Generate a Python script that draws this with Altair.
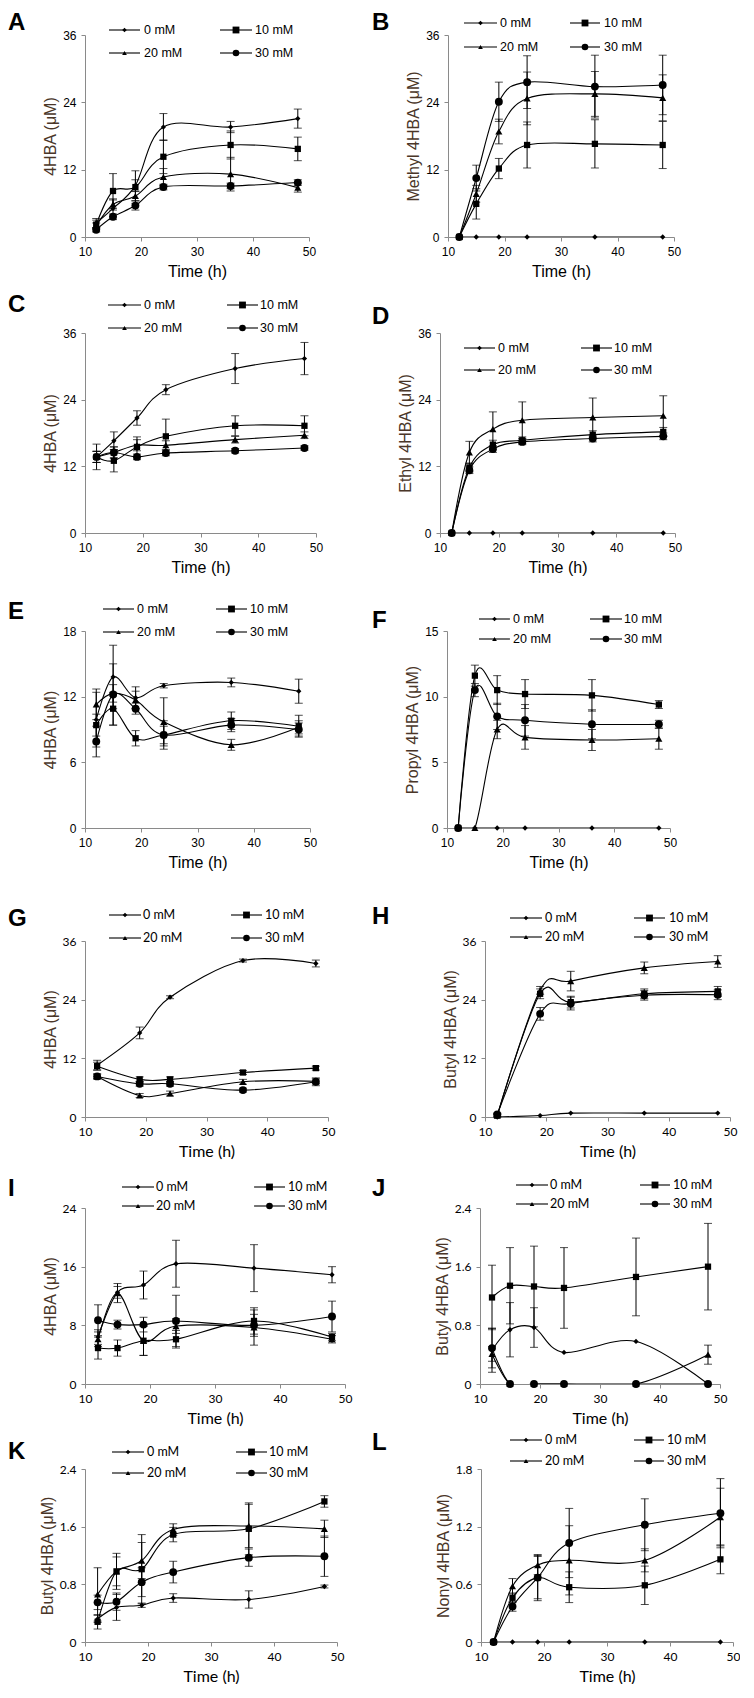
import altair as alt
import pandas as pd

SERIES = ["0 mM", "10 mM", "20 mM", "30 mM"]
MARKERS = ["diamond", "square", "triangle-up", "circle"]
MARKER_SIZE = [28, 62, 30, 58]

T6 = [12, 15, 19, 24, 36, 48]
T5 = [12, 19, 24, 36, 48]
X_TICKS = [10, 20, 30, 40, 50]

# ---- means (rows: 0, 10, 20, 30 mM) and error bars ----
A_MEAN = [[2.5, 5.1, 9.2, 19.6, 19.6, 21.1],
          [2.2, 8.2, 8.9, 14.3, 16.4, 15.7],
          [2.0, 5.8, 7.3, 10.7, 11.2, 8.8],
          [1.3, 3.6, 5.6, 8.9, 9.1, 9.7]]
A_ERR = [[0.8, 1.5, 1.0, 2.4, 1.0, 1.7],
         [0.8, 3.1, 2.9, 3.0, 2.5, 2.1],
         [0.5, 1.0, 0.8, 1.5, 3.0, 0.8],
         [0.4, 0.5, 0.8, 0.5, 0.5, 0.5]]

B_MEAN = [[0, 0, 0, 0, 0, 0],
          [0, 5.9, 12.2, 16.4, 16.6, 16.4],
          [0, 7.7, 18.8, 24.7, 25.5, 24.8],
          [0, 10.5, 24.1, 27.6, 26.8, 27.1]]
B_ERR = [[0, 0, 0, 0, 0, 0],
         [0, 2.7, 1.8, 4.1, 4.3, 4.2],
         [0, 1.5, 2.2, 4.7, 4.0, 4.1],
         [0, 2.3, 3.5, 4.7, 5.6, 5.3]]

C_MEAN = [[13.7, 16.6, 20.7, 25.8, 29.6, 31.4],
          [13.7, 13.0, 15.5, 17.4, 19.3, 19.3],
          [13.7, 14.5, 15.8, 15.8, 16.8, 17.6],
          [13.7, 14.5, 13.7, 14.4, 14.8, 15.3]]
C_ERR = [[1.0, 1.6, 1.3, 0.9, 2.7, 2.9],
         [2.3, 2.0, 1.8, 3.1, 1.8, 1.8],
         [1.0, 1.0, 1.0, 0.8, 0.6, 0.6],
         [1.0, 1.0, 0.5, 0.5, 0.4, 0.4]]

D_MEAN = [[0, 0, 0, 0, 0, 0],
          [0, 11.8, 15.9, 16.7, 17.7, 18.2],
          [0, 14.5, 18.7, 20.3, 20.8, 21.1],
          [0, 11.3, 15.1, 16.4, 17.0, 17.4]]
D_ERR = [[0, 0, 0, 0, 0, 0],
         [0, 0.8, 0.8, 0.6, 0.7, 0.8],
         [0, 2.0, 3.1, 3.3, 3.5, 3.6],
         [0, 0.6, 0.6, 0.5, 0.6, 0.6]]

E_MEAN = [[9.9, 13.8, 11.9, 13.0, 13.3, 12.5],
          [9.4, 10.9, 8.2, 8.5, 9.8, 9.3],
          [11.3, 12.3, 11.7, 9.7, 7.6, 9.2],
          [7.9, 12.2, 10.9, 8.5, 9.4, 9.0]]
E_ERR = [[2.5, 2.9, 1.0, 0.2, 0.4, 1.1],
         [1.0, 1.5, 0.7, 1.3, 0.8, 1.0],
         [1.4, 0.8, 0.8, 2.2, 0.5, 0.6],
         [1.4, 2.8, 0.5, 0.8, 0.6, 0.6]]

F_MEAN = [[0, 0, 0, 0, 0, 0],
          [0, 11.6, 10.5, 10.2, 10.1, 9.4],
          [0, 0, 7.5, 6.9, 6.7, 6.8],
          [0, 10.5, 8.5, 8.2, 7.9, 7.9]]
F_ERR = [[0, 0, 0, 0, 0, 0],
         [0, 0.8, 1.1, 1.1, 1.2, 0.3],
         [0, 0, 0.7, 0.9, 0.8, 0.8],
         [0, 0.5, 1.0, 1.2, 1.1, 0.3]]

G_MEAN = [[10.6, 17.2, 24.5, 32.0, 31.4],
          [10.4, 7.7, 7.7, 9.1, 10.0],
          [8.3, 4.4, 4.8, 7.2, 7.3],
          [8.3, 6.8, 6.8, 5.5, 7.2]]
G_ERR = [[1.0, 1.2, 0.3, 0.3, 0.7],
         [0.8, 0.5, 0.5, 0.4, 0.4],
         [0.5, 0.4, 0.5, 0.5, 0.5],
         [0.5, 0.5, 0.5, 0.4, 0.8]]

H_MEAN = [[0, 0.3, 0.8, 0.8, 0.8],
          [0.3, 25.2, 23.5, 25.2, 25.7],
          [0.3, 25.9, 27.8, 30.5, 31.8],
          [0.5, 21.1, 23.2, 24.9, 25.0]]
H_ERR = [[0, 0, 0, 0, 0],
         [0.3, 1.0, 1.2, 1.0, 1.0],
         [0.3, 0.8, 2.0, 1.2, 1.2],
         [0.3, 1.3, 1.3, 1.0, 1.0]]

I_MEAN = [[6.4, 12.5, 13.5, 16.4, 15.8, 14.9],
          [4.9, 4.9, 5.9, 6.1, 8.6, 6.4],
          [6.1, 12.4, 5.9, 7.9, 7.7, 6.1],
          [8.7, 8.1, 8.1, 8.6, 8.0, 9.2]]
I_ERR = [[1.0, 0.8, 1.9, 3.2, 3.2, 1.1],
         [1.5, 1.1, 2.0, 1.2, 1.8, 0.5],
         [1.0, 1.3, 2.0, 1.0, 2.4, 0.5],
         [2.1, 0.6, 1.0, 3.5, 1.5, 2.1]]

J_MEAN = [[0.46, 0.74, 0.77, 0.43, 0.58, 0.0],
          [1.18, 1.34, 1.33, 1.31, 1.46, 1.60],
          [0.41, 0, 0, 0, 0, 0.40],
          [0.49, 0, 0, 0, 0, 0]]
J_ERR = [[0.3, 0.37, 0.27, 0, 0, 0],
         [0.44, 0.52, 0.55, 0.55, 0.53, 0.59],
         [0.1, 0, 0, 0, 0, 0.13],
         [0.27, 0, 0, 0, 0, 0]]

K_MEAN = [[0.32, 0.48, 0.51, 0.61, 0.59, 0.77],
          [0.28, 0.98, 1.01, 1.49, 1.57, 1.95],
          [0.66, 0.98, 1.13, 1.56, 1.61, 1.57],
          [0.55, 0.56, 0.83, 0.97, 1.17, 1.19]]
K_ERR = [[0.05, 0.18, 0.03, 0.06, 0.12, 0.02],
         [0.1, 0.25, 0.48, 0.1, 0.36, 0.08],
         [0.37, 0.2, 0.25, 0.08, 0.3, 0.12],
         [0.1, 0.12, 0.2, 0.15, 0.12, 0.28]]

L_MEAN = [[0, 0, 0, 0, 0, 0],
          [0, 0.46, 0.67, 0.57, 0.59, 0.86],
          [0, 0.58, 0.80, 0.85, 0.85, 1.30],
          [0, 0.37, 0.67, 1.03, 1.22, 1.34]]
L_ERR = [[0, 0, 0, 0, 0, 0],
         [0, 0.05, 0.22, 0.16, 0.2, 0.15],
         [0, 0.08, 0.1, 0.36, 0.12, 0.3],
         [0, 0.05, 0.24, 0.36, 0.27, 0.36]]

KEYS = ["A", "B", "C", "D", "E", "F", "G", "H", "I", "J", "K", "L"]
TIMES = {"A": T6, "B": T6, "C": T6, "D": T6, "E": T6, "F": T6,
         "G": T5, "H": T5, "I": T6, "J": T6, "K": T6, "L": T6}
MEANS = {"A": A_MEAN, "B": B_MEAN, "C": C_MEAN, "D": D_MEAN, "E": E_MEAN, "F": F_MEAN,
         "G": G_MEAN, "H": H_MEAN, "I": I_MEAN, "J": J_MEAN, "K": K_MEAN, "L": L_MEAN}
ERRS = {"A": A_ERR, "B": B_ERR, "C": C_ERR, "D": D_ERR, "E": E_ERR, "F": F_ERR,
        "G": G_ERR, "H": H_ERR, "I": I_ERR, "J": J_ERR, "K": K_ERR, "L": L_ERR}
Y_TITLES = {"A": "4HBA (μM)", "B": "Methyl 4HBA (μM)", "C": "4HBA (μM)",
            "D": "Ethyl 4HBA (μM)", "E": "4HBA (μM)", "F": "Propyl 4HBA (μM)",
            "G": "4HBA (μM)", "H": "Butyl 4HBA (μM)", "I": "4HBA  (μM)",
            "J": "Butyl 4HBA (μM)", "K": "Butyl 4HBA (μM)", "L": "Nonyl 4HBA (μM)"}
Y_TICKS = {"A": [0, 12, 24, 36], "B": [0, 12, 24, 36], "C": [0, 12, 24, 36],
           "D": [0, 12, 24, 36], "E": [0, 6, 12, 18], "F": [0, 5, 10, 15],
           "G": [0, 12, 24, 36], "H": [0, 12, 24, 36], "I": [0, 8, 16, 24],
           "J": [0, 0.8, 1.6, 2.4], "K": [0, 0.8, 1.6, 2.4], "L": [0, 0.6, 1.2, 1.8]}

# ---- layout (pixels) ----
PANEL_W = {"A": 224, "B": 226, "C": 231, "D": 235, "E": 225, "F": 223,
           "G": 243, "H": 245, "I": 260, "J": 240, "K": 252, "L": 252}
ROW_H = [202, 200, 197, 176, 176, 173]
COL_GAP = [56, 49, 55, 37, 20, 28]
ROW_GAP = [14, 25, 35, 18, 5]
LETTER_POS = {"A": (-77, -12), "B": (-76, -12), "C": (-77, -28), "D": (-68, -16),
              "E": (-77, -19), "F": (-75, -10), "G": (-77, -22), "H": (-113, -24),
              "I": (-77, -19), "J": (-108, -19), "K": (-77, -17), "L": (-109, -26)}
LEGEND_POS = {"A": (24, 55, 59, 135, 167, 170, -5, 18),
              "B": (16, 49, 52, 122, 152, 156, -12, 12),
              "C": (23, 56, 59, 142, 173, 175, -28, -5),
              "D": (24, 55, 58, 141, 172, 174, 15, 37),
              "E": (18, 49, 52, 131, 162, 165, -22, 1),
              "F": (32, 63, 66, 143, 175, 177, -12, 8),
              "G": (24, 56, 58, 146, 177, 180, -26, -3),
              "H": (25, 57, 60, 149, 180, 184, -23, -4),
              "I": (37, 69, 71, 169, 200, 203, -21, -2),
              "J": (36, 68, 70, 160, 190, 193, -23, -4),
              "K": (27, 59, 62, 151, 182, 184, -17, 4),
              "L": (29, 61, 64, 153, 183, 186, -29, -8)}

ARIAL = "Liberation Sans"
CALIBRI = "Lato"
Y_TITLE_COLOR = "#4a3628"

ONE = pd.DataFrame({"k": [0]})


def make_panel(key, height):
    font = CALIBRI if key in "GHIJKL" else ARIAL
    recs = []
    for s, means, errs in zip(SERIES, MEANS[key], ERRS[key]):
        for t, m, e in zip(TIMES[key], means, errs):
            recs.append({"series": s, "time": t, "value": m,
                         "lo": m - e, "hi": m + e, "err": e})
    df = pd.DataFrame(recs)
    ticks = Y_TICKS[key]
    xs = alt.Scale(domain=[10, 50], nice=False, zero=False)
    ys = alt.Scale(domain=[0, ticks[-1]], nice=False, zero=True)
    xaxis = alt.Axis(values=X_TICKS, title="Time (h)", labelFont=font,
                     titleFont=font, format=".1~f")
    yaxis = alt.Axis(values=ticks, title=Y_TITLES[key], labelFont=font,
                     titleFont=ARIAL, format=".1~f")
    X = alt.X("time:Q", scale=xs, axis=xaxis)
    base = alt.Chart(df)
    lines = base.mark_line(interpolate="cardinal", color="black",
                           strokeWidth=1.1, clip=True).encode(
        x=X, y=alt.Y("value:Q", scale=ys, axis=yaxis), detail="series:N")
    bars = base.transform_filter("datum.err > 0")
    rule = bars.mark_rule(color="black", strokeWidth=1).encode(
        x=X, y=alt.Y("lo:Q", scale=ys, axis=yaxis), y2="hi:Q")
    cap_hi = bars.mark_tick(color="black", orient="horizontal", size=8,
                            thickness=1).encode(
        x=X, y=alt.Y("hi:Q", scale=ys, axis=yaxis))
    cap_lo = bars.mark_tick(color="black", orient="horizontal", size=8,
                            thickness=1).encode(
        x=X, y=alt.Y("lo:Q", scale=ys, axis=yaxis))
    pts = base.mark_point(filled=True, opacity=1, color="black").encode(
        x=X, y=alt.Y("value:Q", scale=ys, axis=yaxis),
        shape=alt.Shape("series:N", scale=alt.Scale(domain=SERIES, range=MARKERS), legend=None),
        size=alt.Size("series:N", scale=alt.Scale(domain=SERIES, range=MARKER_SIZE), legend=None))
    layers = [lines, rule, cap_hi, cap_lo, pts]

    c1a, c1b, c1t, c2a, c2b, c2t, r1, r2 = LEGEND_POS[key]
    for i, s in enumerate(SERIES):
        a, b, tx = (c1a, c1b, c1t) if i % 2 == 0 else (c2a, c2b, c2t)
        yy = r1 if i < 2 else r2
        layers.append(alt.Chart(ONE).mark_rule(color="black", strokeWidth=1.1).encode(
            x=alt.value(a), x2=alt.value(b), y=alt.value(yy)))
        layers.append(alt.Chart(ONE).mark_point(filled=True, opacity=1, color="black",
                                                shape=MARKERS[i], size=MARKER_SIZE[i] * 0.75).encode(
            x=alt.value((a + b) / 2), y=alt.value(yy)))
        layers.append(alt.Chart(ONE).mark_text(align="left", baseline="middle", fontSize=12.5,
                                               font=font, color="black").encode(
            x=alt.value(tx), y=alt.value(yy), text=alt.value(s)))
    lx, ly = LETTER_POS[key]
    layers.append(alt.Chart(ONE).mark_text(align="left", baseline="middle", fontSize=24,
                                           fontWeight="bold", font=ARIAL, color="black").encode(
        x=alt.value(lx), y=alt.value(ly), text=alt.value(key)))
    return alt.layer(*layers).properties(width=PANEL_W[key], height=height)


rows = []
for r in range(6):
    rows.append(alt.hconcat(make_panel(KEYS[2 * r], ROW_H[r]),
                            make_panel(KEYS[2 * r + 1], ROW_H[r]),
                            spacing=COL_GAP[r]))

stack = rows[5]
for r in range(4, -1, -1):
    stack = alt.vconcat(rows[r], stack, spacing=ROW_GAP[r])

chart = stack.properties(
    padding={"top": 3, "left": 0, "right": 0, "bottom": 0}
).configure_view(stroke=None).configure_axis(
    grid=False, domainColor="#8a8a8a", tickColor="#8a8a8a", domainWidth=1,
    tickWidth=1, tickSize=4, labelColor="black", labelFontSize=12,
    titleFontSize=16, titleFontWeight="normal", labelPadding=5,
    labelFlush=False, labelOverlap=False
).configure_axisX(titleColor="black", titlePadding=6).configure_axisY(
    titleColor=Y_TITLE_COLOR, titlePadding=4)

chart.save("out.html", embed_options={"renderer": "svg", "actions": False})
